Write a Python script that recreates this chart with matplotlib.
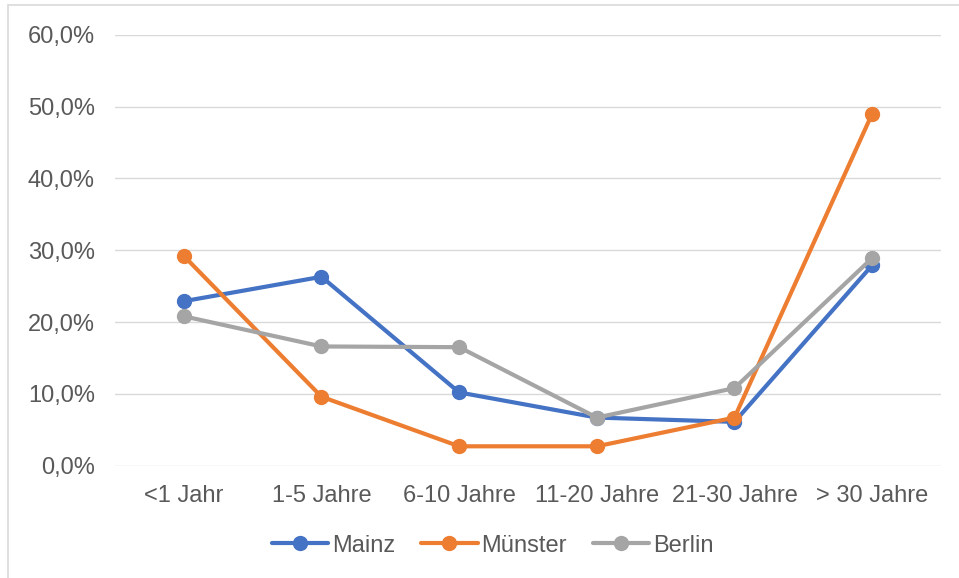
import matplotlib.pyplot as plt
from matplotlib.patches import Rectangle
from matplotlib.ticker import FuncFormatter

plt.rcParams['font.family'] = ['Liberation Sans', 'DejaVu Sans']

categories = ['<1 Jahr', '1-5 Jahre', '6-10 Jahre', '11-20 Jahre', '21-30 Jahre', '> 30 Jahre']
mainz = [22.9, 26.3, 10.2, 6.7, 6.1, 27.9]
muenster = [29.2, 9.6, 2.7, 2.7, 6.7, 49.0]
berlin = [20.8, 16.6, 16.5, 6.7, 10.8, 28.9]

series = [
    ('Mainz', mainz, '#4472C4'),
    ('Münster', muenster, '#ED7D31'),
    ('Berlin', berlin, '#A5A5A5'),
]

text_color = '#595959'
grid_color = '#D9D9D9'
fs = 17

fig = plt.figure(figsize=(9.59, 5.78), dpi=100)
ax = fig.add_axes([115 / 959, 112.3 / 578, 826 / 959, 431 / 578])

x = list(range(len(categories)))
for name, vals, col in series:
    ax.plot(x, vals, color=col, lw=3.0, marker='o', markersize=10,
            solid_capstyle='round', label=name)

ax.set_xlim(-0.5, len(categories) - 0.5)
ax.set_ylim(0, 60)
ax.set_yticks(range(0, 61, 10))
ax.yaxis.set_major_formatter(FuncFormatter(lambda v, p: f'{v:.1f}%'.replace('.', ',')))
ax.set_xticks(x)
ax.set_xticklabels(categories)

ax.grid(axis='y', color=grid_color, lw=1.0)
ax.set_axisbelow(True)
for s in ax.spines.values():
    s.set_visible(False)
ax.tick_params(length=0, labelsize=fs, colors=text_color)
ax.tick_params(axis='y', pad=14.5)
ax.tick_params(axis='x', pad=14)

ax.legend(loc='center', bbox_to_anchor=(492.5 / 959, (578 - 545.7) / 578),
          bbox_transform=fig.transFigure, ncol=3, frameon=False,
          fontsize=fs, labelcolor=text_color, handlelength=2.4,
          handletextpad=0.15, columnspacing=1.1, numpoints=1)

# thin chart-area border
fig.patches.append(Rectangle((8 / 959, -0.1), 1.2, (578 - 5.5) / 578 + 0.1,
                             transform=fig.transFigure, fill=False,
                             edgecolor=grid_color, lw=1.2))

fig.savefig('out.png', dpi=100)
